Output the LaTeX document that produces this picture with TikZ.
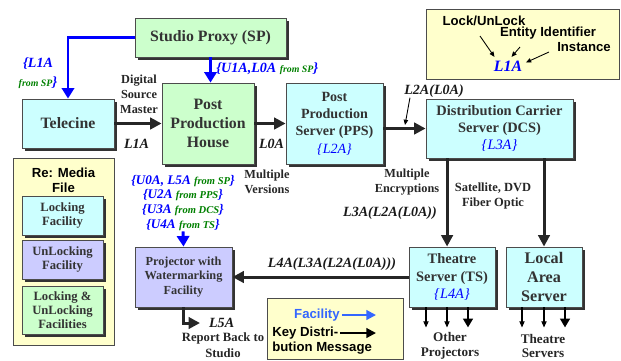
\documentclass[tikz,border=0pt]{standalone}
\usepackage{fontspec}
\setmainfont{Liberation Serif}
\setsansfont{Liberation Sans}
\usetikzlibrary{arrows.meta}
\usetikzlibrary{shadows}
\definecolor{boxgreen}{RGB}{204,255,204}
\definecolor{boxcyan}{RGB}{204,255,255}
\definecolor{boxlilac}{RGB}{204,204,255}
\definecolor{boxyellow}{RGB}{255,255,204}
\definecolor{keyblue}{RGB}{0,0,255}
\definecolor{keygreen}{RGB}{0,128,0}
\definecolor{legblue}{RGB}{51,102,255}
\newcommand{\fromsmall}[1]{{\color{keygreen}\fontsize{5.6}{6}\selectfont #1}}
\newcommand{\fromproj}[1]{{\color{keygreen}\fontsize{6}{6}\selectfont #1}}
\newcommand{\boxkey}[1]{{\mdseries\itshape\color{keyblue}\{#1\}}}

\begin{document}
\begin{tikzpicture}[x=0.02cm,y=-0.02cm]
	%\draw[help lines] (0,0) grid (621,360);
	\useasboundingbox (0,0) rectangle (621,360);

	\tikzstyle{box} = [draw=black!70,line width=0.5pt,align=center,inner sep=0pt,text=black!80,
		drop shadow={shadow xshift=1.5pt,shadow yshift=-1.5pt,fill=black!80,opacity=1}]
	\tikzstyle{grnbox} = [box,fill=boxgreen]
	\tikzstyle{cyanbox} = [box,fill=boxcyan]
	\tikzstyle{lilacbox} = [box,fill=boxlilac]
	\tikzstyle{legbox} = [draw=black!70,line width=0.5pt,fill=boxyellow,inner sep=0pt]
	\tikzstyle{lbl} = [inner sep=0pt,align=center,text=black!85,font=\bfseries\fontsize{7}{8.5}\selectfont]
	\tikzstyle{keylbl} = [inner sep=0pt,align=center,text=black!90,font=\bfseries\itshape\fontsize{8}{9}\selectfont]
	\tikzstyle{bluelbl} = [inner sep=0pt,align=center,text=keyblue,font=\bfseries\itshape\fontsize{8}{11}\selectfont]
	\tikzstyle{sanslbl} = [inner sep=0pt,font=\sffamily\bfseries\fontsize{7.5}{8.5}\selectfont]
	\tikzstyle{karrow} = [line width=1.7pt,black!85,-{Triangle[length=6.5pt,width=6.5pt]}]
	\tikzstyle{barrow} = [line width=1.7pt,keyblue,-{Triangle[length=6pt,width=7pt]}]
	\tikzstyle{tarrow} = [line width=0.5pt,black,-{Triangle[length=3pt,width=2.5pt]}]
	\tikzstyle{thinout} = [line width=0.6pt,black,-{Triangle[length=3.5pt,width=3pt]}]
	\tikzstyle{thickout} = [line width=1.2pt,black,-{Triangle[length=5pt,width=5.5pt]}]

% boxes
\node[grnbox,minimum width=3.02cm,minimum height=0.78cm,font=\bfseries\fontsize{9}{11}\selectfont] (sp) at (210.5,37.5) {Studio Proxy (SP)};
\node[cyanbox,minimum width=1.84cm,minimum height=0.98cm,font=\bfseries\fontsize{9}{11}\selectfont] (tele) at (68,123.5) {Telecine};
\node[grnbox,minimum width=1.84cm,minimum height=1.62cm,font=\bfseries\fontsize{9}{11}\selectfont] (pph) at (208,123.5) {Post\\Production\\House};
\node[cyanbox,minimum width=1.94cm,minimum height=1.62cm,font=\bfseries\fontsize{8}{9.9}\selectfont] (pps) at (334.5,123.5) {Post\\Production\\Server (PPS)\\\boxkey{L2A}};
\node[cyanbox,minimum width=2.94cm,minimum height=1.18cm,font=\bfseries\fontsize{8.2}{9.6}\selectfont] (dcs) at (499.5,128.5) {Distribution Carrier\\Server (DCS)\\\boxkey{L3A}};
\node[lilacbox,minimum width=1.94cm,minimum height=1.2cm,font=\bfseries\fontsize{7}{8.5}\selectfont] (proj) at (183.5,277) {Projector with\\Watermarking\\Facility};
\node[cyanbox,minimum width=1.72cm,minimum height=1.2cm,font=\bfseries\fontsize{8.2}{9.9}\selectfont] (ts) at (452,277) {Theatre\\Server (TS)\\\boxkey{L4A}};
\node[cyanbox,minimum width=1.52cm,minimum height=1.2cm,font=\bfseries\fontsize{9.2}{10.8}\selectfont] (las) at (544,277) {Local\\Area\\Server};

% media file legend
\node[legbox,minimum width=2.02cm,minimum height=3.74cm] (media) at (63.5,251.5) {};
\node[sanslbl,align=center] (mediat) at (63.5,180) {Re: Media\\File};
\node[cyanbox,minimum width=1.62cm,minimum height=0.78cm,font=\bfseries\fontsize{7.2}{8}\selectfont] (lockf) at (62.5,215.5) {Locking\\Facility};
\node[lilacbox,minimum width=1.62cm,minimum height=0.78cm,font=\bfseries\fontsize{7.2}{8}\selectfont] (unlockf) at (62.5,259.5) {UnLocking\\Facility};
\node[grnbox,minimum width=1.62cm,minimum height=0.96cm,font=\bfseries\fontsize{7.2}{8}\selectfont] (bothf) at (62.5,310) {Locking \&\\UnLocking\\Facilities};

% key name legend
\node[legbox,minimum width=3.86cm,minimum height=1.4cm] (namekey) at (522.5,44) {};
\node[sanslbl] (lockw) at (484,21) {Lock/UnLock};
\node[sanslbl] (entw) at (548,33) {Entity Identifier};
\node[sanslbl] (instw) at (584,47) {Instance};
\node[inner sep=2pt,text=keyblue,font=\bfseries\itshape\fontsize{9}{10}\selectfont] (l1akey) at (508,66) {L1A};
\coordinate (lockp) at (480,36);
\coordinate (entp) at (520,47);
\coordinate (instp) at (549,52);
\draw[tarrow] (lockp) -- ([xshift=2.5pt]l1akey.north west);
\draw[tarrow] (entp) -- ([xshift=2pt]l1akey.north);
\draw[tarrow] (instp) -- ([yshift=2pt]l1akey.east);

% arrow legend
\node[legbox,minimum width=2.72cm,minimum height=1.22cm] (arrkey) at (335,328.5) {};
\node[sanslbl,text=legblue,anchor=east] (facw) at (340,315) {Facility};
\node[sanslbl,anchor=west] (keyw) at (272,333) {Key Distri-};
\node[sanslbl,anchor=west] (keyw2) at (272,348) {bution Message};
\coordinate (facend) at (376,315);
\coordinate (keyend) at (376,333);
\draw[line width=1.2pt,legblue,-{Triangle[length=5.5pt,width=5.5pt]}] ([xshift=1pt]facw.east) -- (facend);
\draw[line width=1.2pt,black,-{Triangle[length=5.5pt,width=5.5pt]}] ([xshift=1pt]keyw.east) -- (keyend);

% labels
\node[bluelbl] (l1asp) at (38,73) {\{L1A\\\fromsmall{from SP}\}};
\node[bluelbl,anchor=west] (u1a) at (216,69) {\{U1A,L0A \fromsmall{from SP}\}};
\node[lbl] (dsm) at (139,94) {Digital\\Source\\Master};
\node[keylbl] (l1a) at (136.5,144) {L1A};
\node[keylbl] (l0a) at (271.5,144) {L0A};
\node[lbl] (mver) at (267,182) {Multiple\\Versions};
\node[keylbl] (l2a) at (434,91) {L2A(L0A)};
\coordinate (l2atip) at (405,125);
\draw[tarrow] ([xshift=3.4pt]l2a.south west) -- (l2atip);
\node[lbl] (menc) at (407,182) {Multiple\\Encryptions};
\node[lbl,font=\bfseries\fontsize{7.1}{8}\selectfont] (sat) at (493,196) {Satellite, DVD\\Fiber Optic};
\node[keylbl] (l3a) at (390,213) {L3A(L2A(L0A))};
\node[keylbl] (l4a) at (332,264) {L4A(L3A(L2A(L0A)))};
\node[bluelbl,font=\bfseries\itshape\fontsize{7.5}{8.5}\selectfont] (projkeys) at (183,203)
	{\{U0A, L5A \fromproj{from SP}\}\\\{U2A \fromproj{from PPS}\}\\\{U3A \fromproj{from DCS}\}\\\{U4A \fromproj{from TS}\}};
\node[keylbl,anchor=west,inner xsep=5pt] (l5a) at (200,323) {L5A};
\node[lbl,font=\bfseries\fontsize{7.2}{9}\selectfont] (report) at (223,345) {Report Back to\\Studio};
\node[lbl,font=\bfseries\fontsize{7.5}{8.5}\selectfont] (otherp) at (450,346) {Other\\Projectors};
\node[lbl,font=\bfseries\fontsize{7.5}{8.5}\selectfont] (others) at (543,346) {Theatre\\Servers};

% connectors
\draw[barrow] (sp.west) -| (tele.north);
\draw[barrow] (sp.south) -- (sp.south |- pph.north);
\draw[karrow] (tele.east) -- (pph.west);
\draw[karrow] (pph.east) -- (pps.west);
\draw[karrow] (pps.east |- dcs.west) -- (dcs.west);
\draw[karrow] ([xshift=-2.8pt]ts.north |- dcs.south) -- ([xshift=-2.8pt]ts.north);
\draw[karrow] (las.north |- dcs.south) -- (las.north);
\draw[karrow] (ts.west) -- (proj.east);
\draw[barrow] (projkeys.south) -- (proj.north);
\draw[karrow] (proj.south) |- (l5a.west);
\foreach \x/\s in {426/thinout,447/thinout,468/thickout}
	\draw[\s] (ts.south -| \x,0) -- ++(0,20);
\foreach \x/\s in {522/thinout,544/thinout,565/thickout}
	\draw[\s] (las.south -| \x,0) -- ++(0,20);
\end{tikzpicture}
\end{document}
